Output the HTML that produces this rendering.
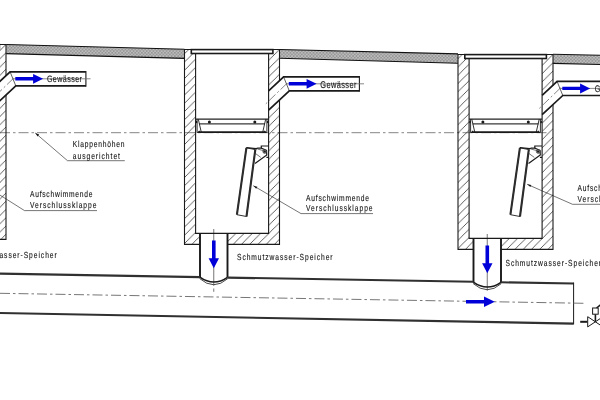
<!DOCTYPE html>
<html><head><meta charset="utf-8"><title>Schema</title>
<style>
html,body{margin:0;padding:0;background:#fff;}
body{width:600px;height:400px;overflow:hidden;}
svg{display:block;will-change:transform;}
text{font-family:"Liberation Sans",sans-serif;font-size:8.8px;text-rendering:geometricPrecision;fill:#151515;stroke:#151515;stroke-width:0.12px;}
</style></head><body>
<svg width="600" height="400" viewBox="0 0 600 400">
<defs>
<pattern id="hatch" patternUnits="userSpaceOnUse" width="8.25" height="8.25" patternTransform="translate(-1,0)">
<path d="M-1,9.25 L9.25,-1 M-1,1 L1,-1 M7.25,9.25 L9.25,7.25" stroke="#2a2a2a" stroke-width="0.75" fill="none"/>
</pattern>
<pattern id="xh" patternUnits="userSpaceOnUse" width="3.3" height="3.3">
<rect width="3.3" height="3.3" fill="#cacaca"/>
<path d="M-1,-1 L4.3,4.3 M4.3,-1 L-1,4.3 M-1,2.3 L1,4.3 M2.3,-1 L4.3,1 M2.3,4.3 L4.3,2.3 M-1,1 L1,-1" stroke="#939393" stroke-width="0.85" fill="none"/>
</pattern>
</defs>
<rect width="600" height="400" fill="#fff"/>

<path d="M6.2,44.5 L184.5,49.2 V58.4 L6.2,53.6 Z" fill="url(#xh)"/>
<path d="M6.2,44.5 L184.5,49.2 M184.5,58.4 L6.2,53.6" fill="none" stroke="#111" stroke-width="1.1"/>
<path d="M279.5,49.5 L458,53.9 V63.2 L279.5,58.3 Z" fill="url(#xh)"/>
<path d="M279.5,49.5 L458,53.9 M458,63.2 L279.5,58.3" fill="none" stroke="#111" stroke-width="1.1"/>
<path d="M553,54.3 L601,55.2 V64.5 L553,63.4 Z" fill="url(#xh)"/>
<path d="M553,54.3 L601,55.2 M601,64.5 L553,63.4" fill="none" stroke="#111" stroke-width="1.1"/>
<path d="M0,132.7 H549" stroke="#787878" stroke-width="0.9" stroke-dasharray="10 3 2.5 3"/>
<g transform="translate(-273.5,-5.0)">
<path d="M184.5,49.5 H195.6 V233.4 H200 V244.4 H184.5 Z" fill="url(#hatch)"/>
<path d="M268.6,49.5 H279.5 V80.7 L268.6,90.8 Z" fill="url(#hatch)"/>
<path d="M268.6,110.1 L279.5,100 V244.4 H227.5 V233.4 H268.6 Z" fill="url(#hatch)"/>
<path d="M200,244.4 H184.5 V49.5 H279.5 V80.7 M279.5,100 V244.4 H227.5" fill="none" stroke="#1a1a1a" stroke-width="1.1"/>
<path d="M195.6,53.5 V233.4 H268.6 V53.5" fill="none" stroke="#1a1a1a" stroke-width="1.1"/>
<rect x="191.3" y="49.6" width="81.6" height="3.9" fill="#fff" stroke="#1a1a1a" stroke-width="1.6"/>
<g transform="translate(0,0)">
<path d="M268.6,90.8 L283.6,76.85 H359.4 M359.4,90.9 H289.3 L268.6,110.1" fill="none" stroke="#1a1a1a" stroke-width="1.7" stroke-linejoin="miter"/>
<path d="M359.4,76 V91.7" stroke="#1a1a1a" stroke-width="1.1"/>
<path d="M283.6,76.85 L289.3,90.9" stroke="#1a1a1a" stroke-width="0.7"/>
<path d="M286,83.8 H364" stroke="#6a6a6a" stroke-width="0.8"/>
<path d="M287,83.3 L265,104.6" stroke="#555" stroke-width="0.7" stroke-dasharray="9 2.5 2 2.5"/>
<path d="M288.8,82.1 H306.6 V78.9 L316.6,83.8 L306.6,88.8 V85.5 H288.8 Z" fill="#0000d8"/>
</g>
<path d="M200,233.4 V277.3 M227.5,233.4 V277.6" stroke="#1a1a1a" stroke-width="1.9" fill="none"/>
<path d="M199.8,277.1 Q213.7,286.9 227.5,277.3" stroke="#1a1a1a" stroke-width="1.6" fill="none"/><path d="M199.6,278.5 Q213.7,290.9 227.7,278.7" stroke="#1a1a1a" stroke-width="0.8" fill="none"/>
<path d="M213.75,229 V285.5" stroke="#1a1a1a" stroke-width="0.6"/>
<path d="M212,240.6 H215.6 V258.2 H219 L213.8,268.2 L208.6,258.2 H212 Z" fill="#0000d8"/>
</g>
<g transform="translate(-273.5,0)">
<path d="M195.6,119.1 H268.6" stroke="#222" stroke-width="1.2"/>
<path d="M199.2,123.9 H265" stroke="#3a3a3a" stroke-width="1.2"/>
<path d="M200.3,132.1 H263.9" stroke="#1a1a1a" stroke-width="1.9"/>
<circle cx="209.4" cy="122.1" r="1.5" fill="#1a1a1a"/><circle cx="254.8" cy="122.1" r="1.5" fill="#1a1a1a"/><ellipse cx="196.5" cy="122" rx="0.8" ry="1.2" fill="#1a1a1a"/><ellipse cx="267.7" cy="122" rx="0.8" ry="1.2" fill="#1a1a1a"/>
<path d="M197.1,119.2 V132.5 M198.3,119.2 L201.3,132.3" stroke="#1a1a1a" stroke-width="0.9" fill="none"/>
<path d="M196.6,133.1 L202,133.1 L199.2,130.6 Z" fill="#1a1a1a"/>
<path d="M266.9,119.2 V132.5 M265.7,119.2 L262.7,132.3" stroke="#1a1a1a" stroke-width="0.9" fill="none"/>
<path d="M267.4,133.1 L262,133.1 L264.8,130.6 Z" fill="#1a1a1a"/>
<path d="M246.4,147.8 L255.3,149.6 L246.5,216.5 L236.9,214.7 Z" fill="#fff" stroke="#1a1a1a" stroke-width="0.9" stroke-linejoin="miter"/>
<path d="M246.4,147.8 L236.9,214.7 M255.3,149.6 L246.5,216.5" fill="none" stroke="#2c2c2c" stroke-width="2.1" stroke-linecap="butt"/>
<path d="M268.5,146 H261.3 V148.2 M266.4,157.4 H268.5" fill="none" stroke="#1a1a1a" stroke-width="1.2"/>
<path d="M246.4,147.6 L256.2,148.6 L258,148 L261.3,148.2 L266.5,150.3 L266.8,155 L255,163.6" fill="none" stroke="#1a1a1a" stroke-width="1.2"/>
<path d="M255.2,150.4 L257.6,148.2 M257.4,149 L264,150.8 M255.6,153.6 L260.8,157.4" fill="none" stroke="#1a1a1a" stroke-width="0.6"/>
<circle cx="264.7" cy="151.5" r="1.9" fill="#888" stroke="#1a1a1a" stroke-width="0.5"/>
<circle cx="264.7" cy="151.5" r="1.1" fill="#1a1a1a"/>
</g>
<g transform="translate(0.0,0.0)">
<path d="M184.5,49.5 H195.6 V233.4 H200 V244.4 H184.5 Z" fill="url(#hatch)"/>
<path d="M268.6,49.5 H279.5 V80.7 L268.6,90.8 Z" fill="url(#hatch)"/>
<path d="M268.6,110.1 L279.5,100 V244.4 H227.5 V233.4 H268.6 Z" fill="url(#hatch)"/>
<path d="M200,244.4 H184.5 V49.5 H279.5 V80.7 M279.5,100 V244.4 H227.5" fill="none" stroke="#1a1a1a" stroke-width="1.1"/>
<path d="M195.6,53.5 V233.4 H268.6 V53.5" fill="none" stroke="#1a1a1a" stroke-width="1.1"/>
<rect x="191.3" y="49.6" width="81.6" height="3.9" fill="#fff" stroke="#1a1a1a" stroke-width="1.6"/>
<g transform="translate(0,0)">
<path d="M268.6,90.8 L283.6,76.85 H359.4 M359.4,90.9 H289.3 L268.6,110.1" fill="none" stroke="#1a1a1a" stroke-width="1.7" stroke-linejoin="miter"/>
<path d="M359.4,76 V91.7" stroke="#1a1a1a" stroke-width="1.1"/>
<path d="M283.6,76.85 L289.3,90.9" stroke="#1a1a1a" stroke-width="0.7"/>
<path d="M286,83.8 H364" stroke="#6a6a6a" stroke-width="0.8"/>
<path d="M287,83.3 L265,104.6" stroke="#555" stroke-width="0.7" stroke-dasharray="9 2.5 2 2.5"/>
<path d="M288.8,82.1 H306.6 V78.9 L316.6,83.8 L306.6,88.8 V85.5 H288.8 Z" fill="#0000d8"/>
</g>
<path d="M200,233.4 V277.3 M227.5,233.4 V277.6" stroke="#1a1a1a" stroke-width="1.9" fill="none"/>
<path d="M199.8,277.1 Q213.7,286.9 227.5,277.3" stroke="#1a1a1a" stroke-width="1.6" fill="none"/><path d="M199.6,278.5 Q213.7,290.9 227.7,278.7" stroke="#1a1a1a" stroke-width="0.8" fill="none"/>
<path d="M213.75,229 V285.5" stroke="#1a1a1a" stroke-width="0.6"/>
<path d="M212,240.6 H215.6 V258.2 H219 L213.8,268.2 L208.6,258.2 H212 Z" fill="#0000d8"/>
</g>
<g transform="translate(0.0,0)">
<path d="M195.6,119.1 H268.6" stroke="#222" stroke-width="1.2"/>
<path d="M199.2,123.9 H265" stroke="#3a3a3a" stroke-width="1.2"/>
<path d="M200.3,132.1 H263.9" stroke="#1a1a1a" stroke-width="1.9"/>
<circle cx="209.4" cy="122.1" r="1.5" fill="#1a1a1a"/><circle cx="254.8" cy="122.1" r="1.5" fill="#1a1a1a"/><ellipse cx="196.5" cy="122" rx="0.8" ry="1.2" fill="#1a1a1a"/><ellipse cx="267.7" cy="122" rx="0.8" ry="1.2" fill="#1a1a1a"/>
<path d="M197.1,119.2 V132.5 M198.3,119.2 L201.3,132.3" stroke="#1a1a1a" stroke-width="0.9" fill="none"/>
<path d="M196.6,133.1 L202,133.1 L199.2,130.6 Z" fill="#1a1a1a"/>
<path d="M266.9,119.2 V132.5 M265.7,119.2 L262.7,132.3" stroke="#1a1a1a" stroke-width="0.9" fill="none"/>
<path d="M267.4,133.1 L262,133.1 L264.8,130.6 Z" fill="#1a1a1a"/>
<path d="M246.4,147.8 L255.3,149.6 L246.5,216.5 L236.9,214.7 Z" fill="#fff" stroke="#1a1a1a" stroke-width="0.9" stroke-linejoin="miter"/>
<path d="M246.4,147.8 L236.9,214.7 M255.3,149.6 L246.5,216.5" fill="none" stroke="#2c2c2c" stroke-width="2.1" stroke-linecap="butt"/>
<path d="M268.5,146 H261.3 V148.2 M266.4,157.4 H268.5" fill="none" stroke="#1a1a1a" stroke-width="1.2"/>
<path d="M246.4,147.6 L256.2,148.6 L258,148 L261.3,148.2 L266.5,150.3 L266.8,155 L255,163.6" fill="none" stroke="#1a1a1a" stroke-width="1.2"/>
<path d="M255.2,150.4 L257.6,148.2 M257.4,149 L264,150.8 M255.6,153.6 L260.8,157.4" fill="none" stroke="#1a1a1a" stroke-width="0.6"/>
<circle cx="264.7" cy="151.5" r="1.9" fill="#888" stroke="#1a1a1a" stroke-width="0.5"/>
<circle cx="264.7" cy="151.5" r="1.1" fill="#1a1a1a"/>
</g>
<g transform="translate(273.5,5.0)">
<path d="M184.5,49.5 H195.6 V233.4 H200 V244.4 H184.5 Z" fill="url(#hatch)"/>
<path d="M268.6,49.5 H279.5 V80.7 L268.6,90.8 Z" fill="url(#hatch)"/>
<path d="M268.6,110.1 L279.5,100 V244.4 H227.5 V233.4 H268.6 Z" fill="url(#hatch)"/>
<path d="M200,244.4 H184.5 V49.5 H279.5 V80.7 M279.5,100 V244.4 H227.5" fill="none" stroke="#1a1a1a" stroke-width="1.1"/>
<path d="M195.6,53.5 V233.4 H268.6 V53.5" fill="none" stroke="#1a1a1a" stroke-width="1.1"/>
<rect x="191.3" y="49.6" width="81.6" height="3.9" fill="#fff" stroke="#1a1a1a" stroke-width="1.6"/>
<g transform="translate(0,-0.4)">
<path d="M268.6,90.8 L283.6,76.85 H359.4 M359.4,90.9 H289.3 L268.6,110.1" fill="none" stroke="#1a1a1a" stroke-width="1.7" stroke-linejoin="miter"/>
<path d="M359.4,76 V91.7" stroke="#1a1a1a" stroke-width="1.1"/>
<path d="M283.6,76.85 L289.3,90.9" stroke="#1a1a1a" stroke-width="0.7"/>
<path d="M286,83.8 H364" stroke="#6a6a6a" stroke-width="0.8"/>
<path d="M287,83.3 L265,104.6" stroke="#555" stroke-width="0.7" stroke-dasharray="9 2.5 2 2.5"/>
<path d="M288.8,82.1 H306.6 V78.9 L316.6,83.8 L306.6,88.8 V85.5 H288.8 Z" fill="#0000d8"/>
</g>
<path d="M200,233.4 V277.3 M227.5,233.4 V277.6" stroke="#1a1a1a" stroke-width="1.9" fill="none"/>
<path d="M199.8,277.1 Q213.7,286.9 227.5,277.3" stroke="#1a1a1a" stroke-width="1.6" fill="none"/><path d="M199.6,278.5 Q213.7,290.9 227.7,278.7" stroke="#1a1a1a" stroke-width="0.8" fill="none"/>
<path d="M213.75,229 V285.5" stroke="#1a1a1a" stroke-width="0.6"/>
<path d="M212,240.6 H215.6 V258.2 H219 L213.8,268.2 L208.6,258.2 H212 Z" fill="#0000d8"/>
</g>
<g transform="translate(273.5,0)">
<path d="M195.6,119.1 H268.6" stroke="#222" stroke-width="1.2"/>
<path d="M199.2,123.9 H265" stroke="#3a3a3a" stroke-width="1.2"/>
<path d="M200.3,132.1 H263.9" stroke="#1a1a1a" stroke-width="1.9"/>
<circle cx="209.4" cy="122.1" r="1.5" fill="#1a1a1a"/><circle cx="254.8" cy="122.1" r="1.5" fill="#1a1a1a"/><ellipse cx="196.5" cy="122" rx="0.8" ry="1.2" fill="#1a1a1a"/><ellipse cx="267.7" cy="122" rx="0.8" ry="1.2" fill="#1a1a1a"/>
<path d="M197.1,119.2 V132.5 M198.3,119.2 L201.3,132.3" stroke="#1a1a1a" stroke-width="0.9" fill="none"/>
<path d="M196.6,133.1 L202,133.1 L199.2,130.6 Z" fill="#1a1a1a"/>
<path d="M266.9,119.2 V132.5 M265.7,119.2 L262.7,132.3" stroke="#1a1a1a" stroke-width="0.9" fill="none"/>
<path d="M267.4,133.1 L262,133.1 L264.8,130.6 Z" fill="#1a1a1a"/>
<path d="M246.4,147.8 L255.3,149.6 L246.5,216.5 L236.9,214.7 Z" fill="#fff" stroke="#1a1a1a" stroke-width="0.9" stroke-linejoin="miter"/>
<path d="M246.4,147.8 L236.9,214.7 M255.3,149.6 L246.5,216.5" fill="none" stroke="#2c2c2c" stroke-width="2.1" stroke-linecap="butt"/>
<path d="M268.5,146 H261.3 V148.2 M266.4,157.4 H268.5" fill="none" stroke="#1a1a1a" stroke-width="1.2"/>
<path d="M246.4,147.6 L256.2,148.6 L258,148 L261.3,148.2 L266.5,150.3 L266.8,155 L255,163.6" fill="none" stroke="#1a1a1a" stroke-width="1.2"/>
<path d="M255.2,150.4 L257.6,148.2 M257.4,149 L264,150.8 M255.6,153.6 L260.8,157.4" fill="none" stroke="#1a1a1a" stroke-width="0.6"/>
<circle cx="264.7" cy="151.5" r="1.9" fill="#888" stroke="#1a1a1a" stroke-width="0.5"/>
<circle cx="264.7" cy="151.5" r="1.1" fill="#1a1a1a"/>
</g>
<path d="M213.75,288.5 V291.8" stroke="#1a1a1a" stroke-width="0.6"/>
<path d="M0,273.6 L200,277.1 M227.5,277.6 L473.5,281.8 M501,282.3 L573.6,283.5 M573.6,323.6 L0,313.0" fill="none" stroke="#303030" stroke-width="2.1"/>
<path d="M573.6,282.5 V324.3" fill="none" stroke="#1a1a1a" stroke-width="1"/>
<path d="M0,293.3 L584.5,303.3" stroke="#666" stroke-width="0.9" stroke-dasharray="10 3 2.5 3"/>
<path d="M466,300 H484 V296.4 L494.8,301.75 L484,307.1 V303.5 H466 Z" fill="#0000d8"/>
<path d="M580.2,321.8 H587.5" stroke="#1a1a1a" stroke-width="2"/>
<path d="M587.7,316.7 V326.9 L603,316.7 V326.9 Z" fill="#fff" stroke="#1a1a1a" stroke-width="1"/>
<path d="M595.4,321.8 V314.2" stroke="#1a1a1a" stroke-width="1.6"/>
<rect x="592.6" y="308" width="5.6" height="6.2" fill="#fff" stroke="#1a1a1a" stroke-width="1"/>
<path d="M596.5,308 L600.5,304.8" stroke="#1a1a1a" stroke-width="1.6"/>
<text style="font-size:9.4px" transform="translate(46.9,81.9) scale(0.76,1)" textLength="46.05" lengthAdjust="spacing">Gewässer</text>
<text style="font-size:9.8px" transform="translate(320.2,87.7) scale(0.76,1)" textLength="47.76" lengthAdjust="spacing">Gewässer</text>
<text style="font-size:9.5px" transform="translate(594.7,92.2) scale(0.76,1)" textLength="46.84" lengthAdjust="spacing">Gewässer</text>
<text transform="translate(72.75,147.3) scale(0.76,1)" textLength="68.03" lengthAdjust="spacing">Klappenhöhen</text>
<text transform="translate(72.75,158.5) scale(0.76,1)" textLength="62.11" lengthAdjust="spacing">ausgerichtet</text>
<path d="M35.3,133 L67.5,160.7 H124.8" fill="none" stroke="#1a1a1a" stroke-width="0.6"/>
<path d="M35.3,133 L39.2,134.6 L37.6,136.4 Z" fill="#1a1a1a"/>
<text transform="translate(30,197) scale(0.76,1)" textLength="82.11" lengthAdjust="spacing">Aufschwimmende</text>
<text transform="translate(30,208) scale(0.76,1)" textLength="87.37" lengthAdjust="spacing">Verschlussklappe</text>
<path d="M-20,182.5 L24.5,210.6 H97" fill="none" stroke="#1a1a1a" stroke-width="0.6"/>
<text transform="translate(306,200.6) scale(0.76,1)" textLength="82.89" lengthAdjust="spacing">Aufschwimmende</text>
<text transform="translate(306,211.4) scale(0.76,1)" textLength="87.63" lengthAdjust="spacing">Verschlussklappe</text>
<path d="M253.3,185.7 L301,213.6 H373" fill="none" stroke="#1a1a1a" stroke-width="0.6"/>
<path d="M253.3,185.7 L257.4,186.8 L256.2,188.8 Z" fill="#1a1a1a"/>
<text transform="translate(577.5,190.6) scale(0.76,1)" textLength="82.89" lengthAdjust="spacing">Aufschwimmende</text>
<text transform="translate(577.5,201.8) scale(0.76,1)" textLength="87.63" lengthAdjust="spacing">Verschlussklappe</text>
<path d="M527.2,184.3 L572.5,204.3 H601" fill="none" stroke="#1a1a1a" stroke-width="0.6"/>
<path d="M527.2,184.3 L531.3,185 L530.3,187.1 Z" fill="#1a1a1a"/>
<text transform="translate(237,260) scale(0.76,1)" textLength="125.79" lengthAdjust="spacing">Schmutzwasser-Speicher</text>
<text transform="translate(505.5,265.6) scale(0.76,1)" textLength="125.79" lengthAdjust="spacing">Schmutzwasser-Speicher</text>
<text transform="translate(-38.9,257.5) scale(0.76,1)" textLength="125.79" lengthAdjust="spacing">Schmutzwasser-Speicher</text>
</svg></body></html>
